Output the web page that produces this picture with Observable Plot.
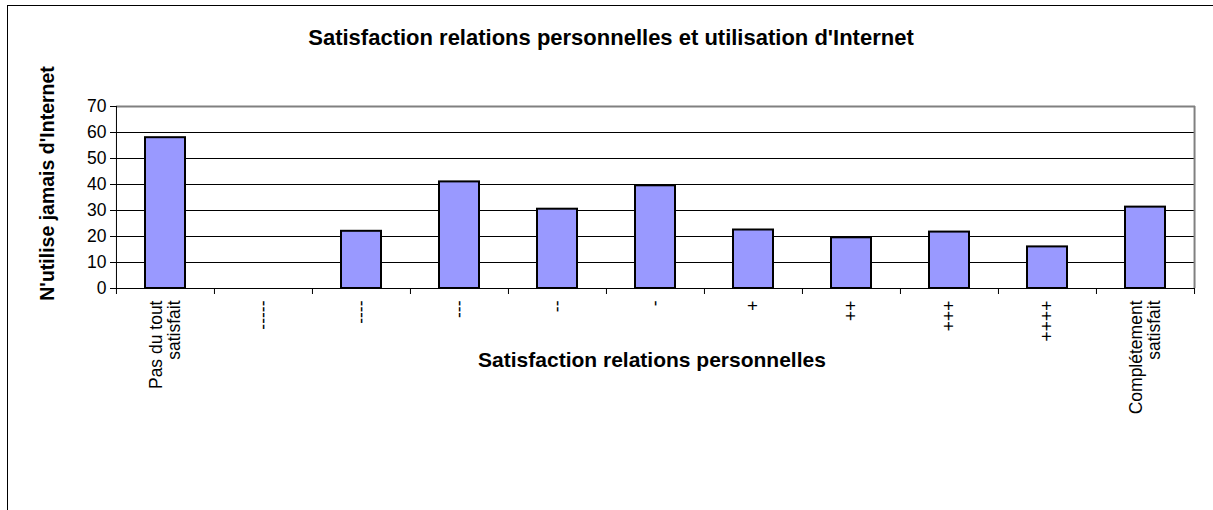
<!DOCTYPE html>
<html>
<head>
<meta charset="utf-8">
<script src="https://cdn.jsdelivr.net/npm/d3@7"></script>
<script src="https://cdn.jsdelivr.net/npm/@observablehq/plot@0.6"></script>
<style>
  html, body { margin: 0; padding: 0; background: #fff; overflow: hidden; width: 1213px; height: 510px; }
  #frame { position: absolute; left: 7px; top: 5px; width: 1400px; height: 700px; border: 1px solid #000; box-sizing: border-box; }
  #title { position: absolute; left: 0; top: 25px; width: 1222px; line-height: 26px; text-align: center; font-family: "Liberation Sans", Arial, sans-serif; font-weight: bold; font-size: 22px; color: #000; }
  #chart { position: absolute; left: 0; top: 0; }
  #chart svg { overflow: visible; }
</style>
</head>
<body>
<div id="frame"></div>
<div id="title"></div>
<div id="chart"></div>
<script>
const chartTitle = "Satisfaction relations personnelles et utilisation d'Internet";
const xTitle = "Satisfaction relations personnelles";
const yTitle = "N'utilise jamais d'Internet";
const categories = ["Pas du tout\nsatisfait", "-----", "----", "---", "--", "-", "+", "++", "+++", "++++", "Complétement\nsatisfait"];
const values = [58, 0, 22, 41, 30.5, 39.5, 22.5, 19.5, 21.7, 16, 31.3];
const yTicks = [0, 10, 20, 30, 40, 50, 60, 70];

document.getElementById("title").textContent = chartTitle;

const data = categories.map((c, i) => ({category: c, value: values[i]}));

const W = 1213, H = 430, ML = 116, MR = 18, MT = 106, MB = 142;
const step = (W - ML - MR) / categories.length;
const font = "'Liberation Sans', Arial, sans-serif";
const yMax = yTicks[yTicks.length - 1];

const chart = Plot.plot({
  width: W,
  height: H,
  marginLeft: ML,
  marginRight: MR,
  marginTop: MT,
  marginBottom: MB,
  style: {fontFamily: font, fontSize: "17px", color: "#000", background: "transparent"},
  x: {type: "band", domain: categories, paddingInner: 0.59, paddingOuter: 0.295, axis: null},
  y: {domain: [0, yMax], axis: null},
  marks: [
    Plot.ruleY(yTicks.filter(t => t > 0 && t < yMax), {stroke: "#000", strokeWidth: 1}),
    Plot.ruleY([yMax], {stroke: "#808080", strokeWidth: 2}),
    Plot.ruleX([categories[categories.length - 1]], {x: d => d, dx: step / 2, stroke: "#808080", strokeWidth: 2}),
    Plot.barY(data, {x: "category", y: "value", filter: d => d.value > 0, fill: "#9999FF", stroke: "#000", strokeWidth: 2}),
    Plot.ruleY([0], {stroke: "#000", strokeWidth: 1}),
    Plot.ruleX([categories[0]], {x: d => d, dx: -step / 2, stroke: "#000", strokeWidth: 1}),
    Plot.axisY(yTicks, {anchor: "left", tickSize: 6, tickPadding: 4, fontSize: 17.5, stroke: "#000", fill: "#000", label: null}),
    Plot.axisX(categories, {anchor: "bottom", tickSize: 6, tickFormat: () => "", dx: -step / 2, stroke: "#000", label: null}),
    Plot.axisX([categories[categories.length - 1]], {anchor: "bottom", tickSize: 6, tickFormat: () => "", dx: step / 2, stroke: "#000", label: null}),
    Plot.text(categories, {x: d => d, text: d => d, frameAnchor: "bottom", rotate: -90, textAnchor: "end", lineAnchor: "middle", dy: 12, fontSize: 17.5, fill: "#000"}),
    Plot.text([xTitle], {text: d => d, frameAnchor: "bottom", textAnchor: "middle", lineAnchor: "middle", dy: 72, dx: -4, fontSize: 21, fontWeight: "bold", fill: "#000"}),
    Plot.text([yTitle], {text: d => d, frameAnchor: "left", rotate: -90, textAnchor: "middle", lineAnchor: "middle", dx: -69, dy: -14, fontSize: 19.5, fontWeight: "bold", fill: "#000"})
  ]
});
document.getElementById("chart").appendChild(chart);
</script>
</body>
</html>
